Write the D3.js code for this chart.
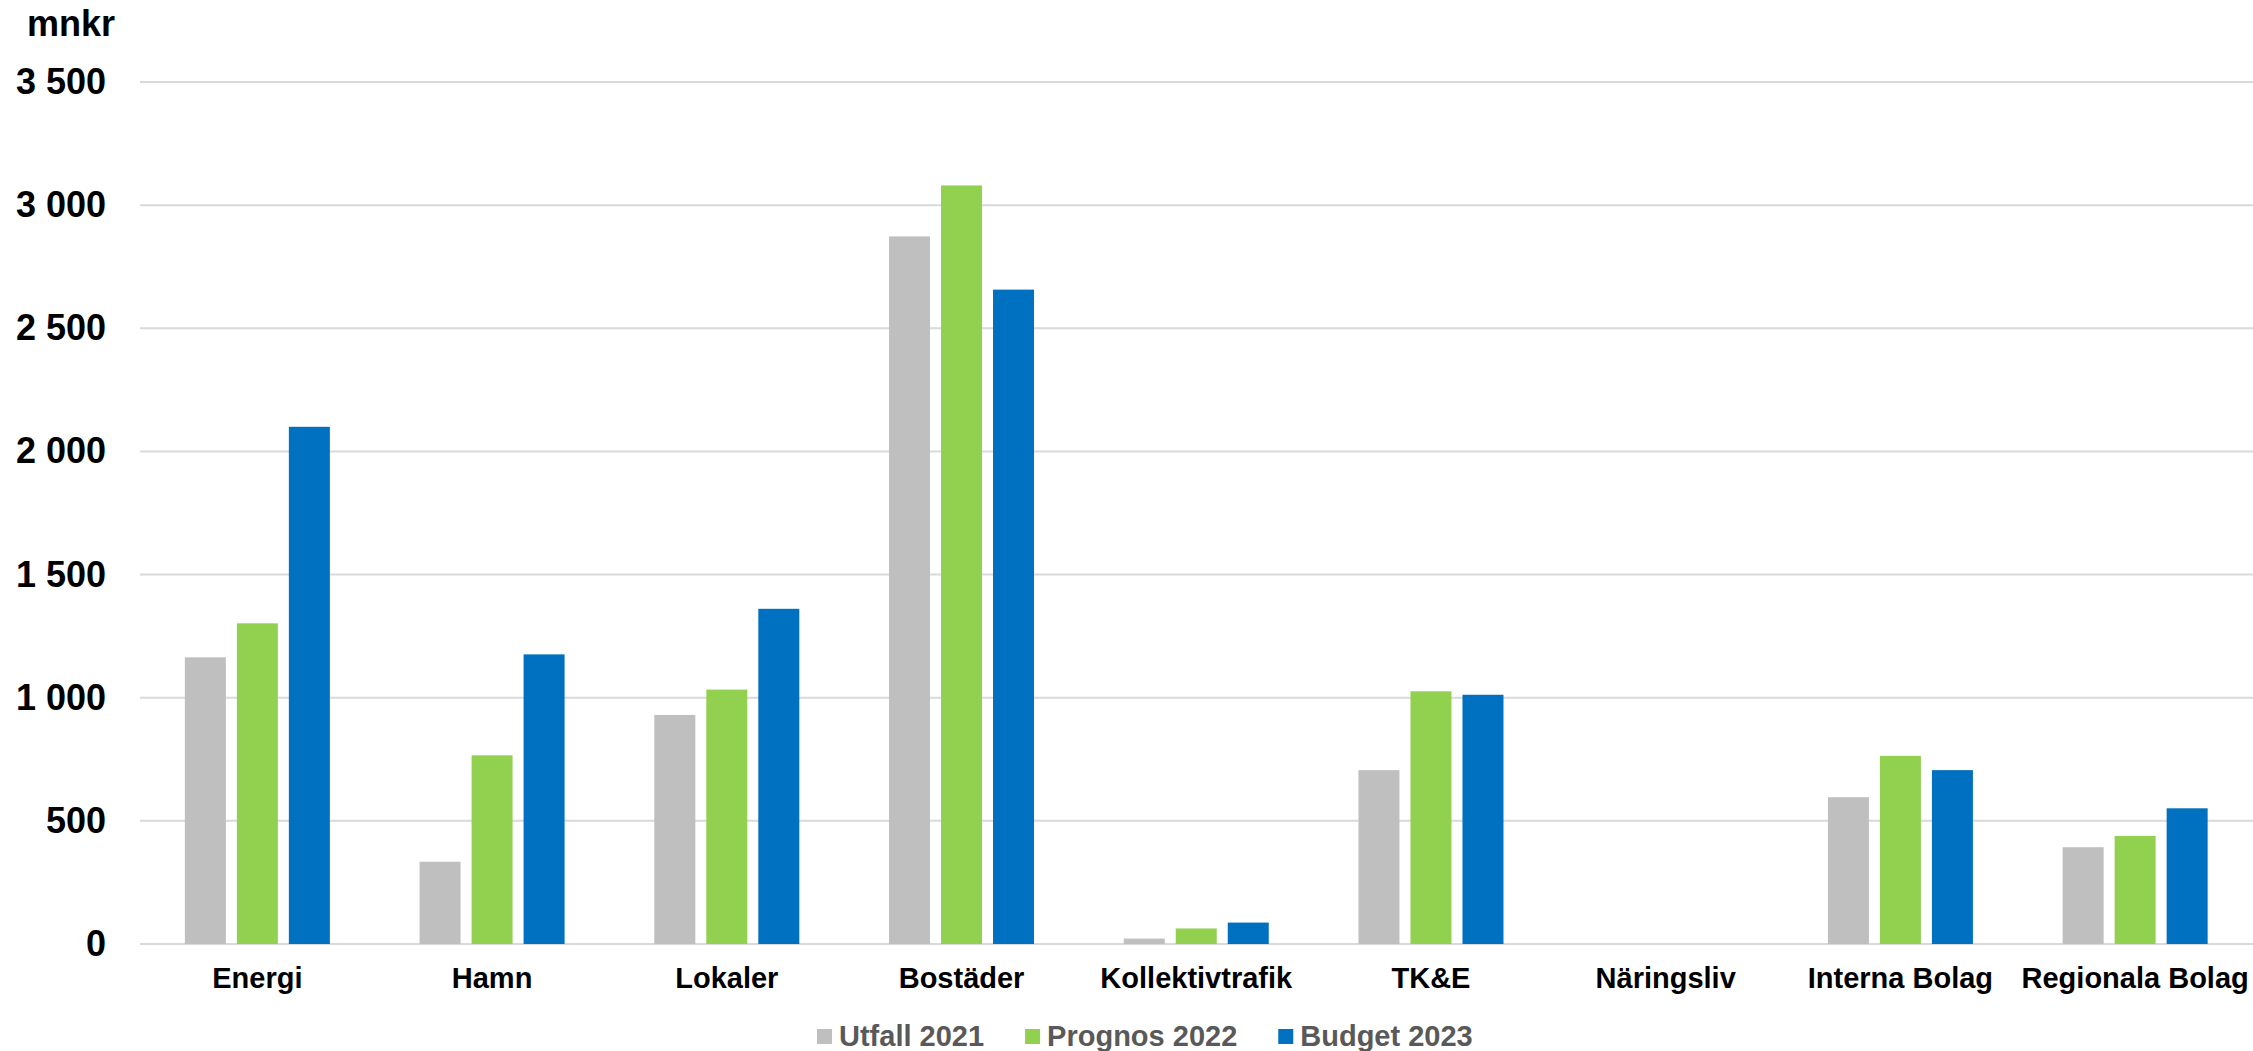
<!DOCTYPE html>
<html>
<head>
<meta charset="utf-8">
<script src="https://cdn.jsdelivr.net/npm/d3@7"></script>
<style>
  html, body { margin: 0; padding: 0; background: #fff; }
  svg text { font-family: "Liberation Sans", Arial, sans-serif; font-weight: bold; }
</style>
</head>
<body>
<script>
  // Data (mnkr)
  const categories = ['Energi', 'Hamn', 'Lokaler', 'Bostäder', 'Kollektivtrafik', 'TK&E', 'Näringsliv', 'Interna Bolag', 'Regionala Bolag'];
  const seriesNames = ['Utfall 2021', 'Prognos 2022', 'Budget 2023'];
  const utfall2021 = [1164, 334, 930, 2873, 22, 706, 0, 596, 393];
  const prognos2022 = [1302, 766, 1033, 3080, 63, 1026, 0, 764, 439];
  const budget2023 = [2100, 1176, 1361, 2657, 87, 1012, 0, 706, 551];
  const yTicks = [0, 500, 1000, 1500, 2000, 2500, 3000, 3500];
  const colors = ['#BFBFBF', '#92D050', '#0070C0'];

  const Chart = {};

  Chart.config = function config() {
    const vm = this;
    vm.width = 2253;
    vm.height = 1051;
    vm.plot = { left: 140, right: 2252.5, top: 82, bottom: 944 };
    vm.scales();
  };

  Chart.scales = function scales() {
    const vm = this;
    vm.x0 = d3.scaleBand().domain(categories).range([vm.plot.left, vm.plot.right]).padding(0);
    const groupW = 145;
    const c = vm.x0.bandwidth() / 2;
    vm.x1 = d3.scaleBand().domain(seriesNames).range([c - groupW / 2, c + groupW / 2]).paddingInner(11 / 52).paddingOuter(0);
    vm.y = d3.scaleLinear().domain([0, 3500]).range([vm.plot.bottom, vm.plot.top]);
    vm.color = d3.scaleOrdinal().domain(seriesNames).range(colors);
  };

  Chart.draw = function draw() {
    const vm = this;
    const svg = d3.select('body').append('svg')
      .attr('width', vm.width).attr('height', vm.height);

    const fmt = d3.formatLocale({ decimal: ',', thousands: ' ', grouping: [3], currency: ['', ' kr'] }).format(',d');

    // gridlines
    svg.append('g').selectAll('line').data(yTicks).enter().append('line')
      .attr('x1', vm.plot.left).attr('x2', vm.width)
      .attr('y1', d => vm.y(d)).attr('y2', d => vm.y(d))
      .attr('stroke', '#D9D9D9').attr('stroke-width', 2);

    // y axis labels
    const yAxis = d3.axisLeft(vm.y).tickValues(yTicks).tickFormat(fmt).tickSize(0).tickPadding(0);
    const ya = svg.append('g').attr('transform', 'translate(106,0)').call(yAxis);
    ya.select('.domain').remove();
    ya.selectAll('text').attr('font-size', 36).attr('fill', '#000')
      .attr('font-family', '"Liberation Sans", Arial, sans-serif').attr('font-weight', 'bold')
      .attr('dy', '0.32em');

    svg.append('text').attr('x', 27).attr('y', 36).attr('font-size', 36).attr('fill', '#000').text('mnkr');

    // bars
    const rows = categories.map((c, i) => ({
      cat: c,
      vals: [utfall2021[i], prognos2022[i], budget2023[i]].map((v, j) => ({ key: seriesNames[j], v }))
    }));
    const groups = svg.append('g').selectAll('g').data(rows).enter().append('g')
      .attr('transform', d => `translate(${vm.x0(d.cat)},0)`);
    groups.selectAll('rect').data(d => d.vals).enter().append('rect')
      .attr('x', d => vm.x1(d.key)).attr('width', vm.x1.bandwidth())
      .attr('y', d => vm.y(d.v)).attr('height', d => vm.y(0) - vm.y(d.v))
      .attr('fill', d => vm.color(d.key));

    // category labels
    const xAxis = d3.axisBottom(vm.x0).tickSize(0).tickPadding(0);
    const xa = svg.append('g').attr('transform', `translate(0,${vm.plot.bottom})`).call(xAxis);
    xa.select('.domain').remove();
    xa.selectAll('text').attr('font-size', 29).attr('fill', '#000')
      .attr('font-family', '"Liberation Sans", Arial, sans-serif').attr('font-weight', 'bold')
      .attr('dy', null).attr('y', 44);

    // legend
    const legend = svg.append('g');
    let lx = 817;
    seriesNames.forEach(name => {
      legend.append('rect').attr('x', lx).attr('y', 1029).attr('width', 15).attr('height', 15).attr('fill', vm.color(name));
      const t = legend.append('text').attr('x', lx + 22).attr('y', 1046).attr('font-size', 29).attr('fill', '#595959').text(name);
      lx += 22 + t.node().getComputedTextLength() + 41;
    });
  };

  Chart.config();
  Chart.draw();
</script>
</body>
</html>
